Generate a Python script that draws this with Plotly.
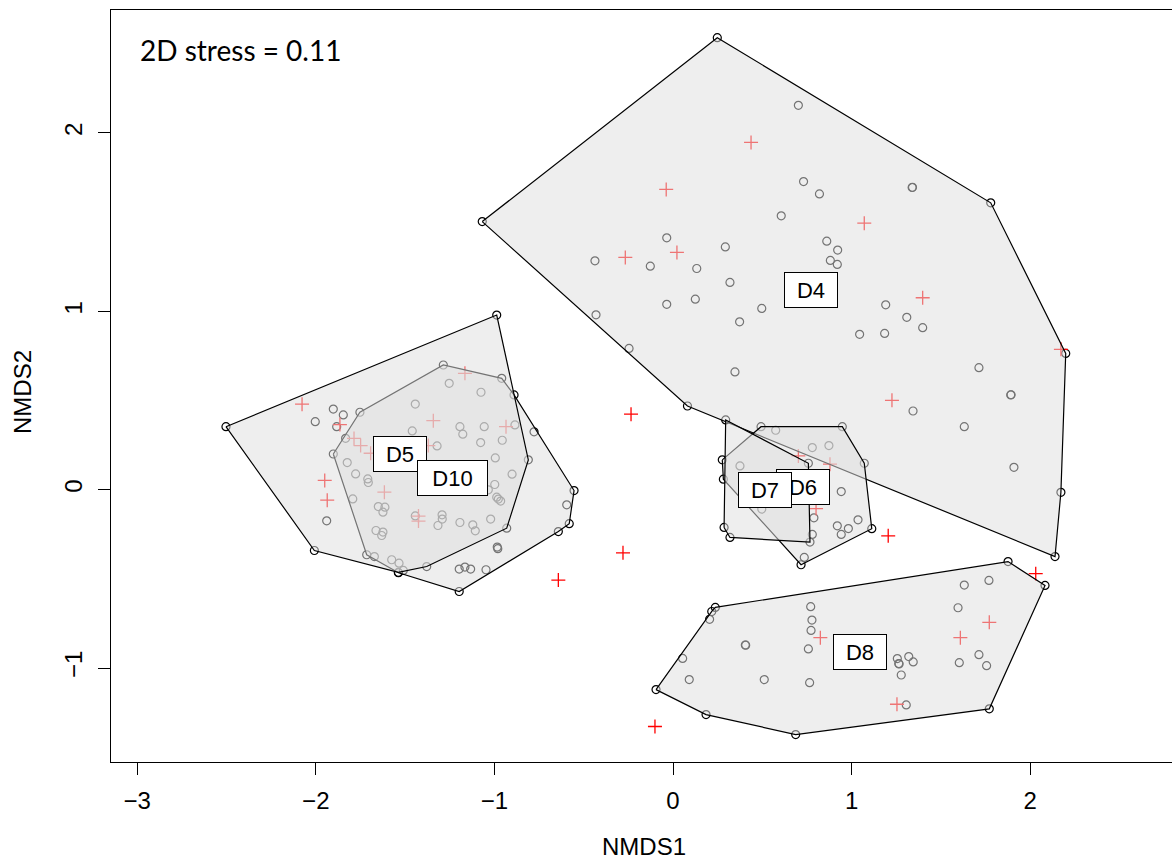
import plotly.graph_objects as go

# NMDS site scores, one pair of lists per group
d4_x = [0.248, -1.068, 1.779, 2.199, 2.172, 2.139, 0.081, -0.246, 0.702, 0.731,
        0.820, 1.339, 1.341, 0.606, -0.035, 0.293, -0.437, -0.127, 0.133, 0.319,
        -0.035, 0.125, 0.497, 0.373, -0.431, 0.347, 0.861, 0.922, 0.881, 0.920,
        1.191, 1.309, 1.398, 1.045, 1.185, 1.713, 1.891, 1.893, 1.344, 1.631, 1.909]
d4_y = [2.534, 1.503, 1.608, 0.764, -0.015, -0.375, 0.469, 0.792, 2.155, 1.727,
        1.658, 1.694, 1.695, 1.535, 1.412, 1.361, 1.283, 1.253, 1.240, 1.162,
        1.039, 1.068, 1.016, 0.941, 0.980, 0.660, 1.393, 1.343, 1.285, 1.263,
        1.036, 0.966, 0.908, 0.871, 0.876, 0.684, 0.531, 0.532, 0.441, 0.353, 0.125]

d5_x = [-2.503, -0.987, -0.810, -0.931, -1.379, -1.538, -2.008, -2.003, -1.902, -1.846,
        -1.883, -1.939, -1.460, -1.443, -1.253, -1.193, -1.057, -1.177, -1.077, -0.956,
        -1.075, -0.885, -1.321, -0.995]
d5_y = [0.353, 0.979, 0.167, -0.216, -0.431, -0.464, -0.341, 0.381, 0.452, 0.419,
        0.353, -0.175, 0.329, 0.480, 0.596, 0.353, 0.353, 0.311, 0.264, 0.277,
        0.546, 0.363, 0.245, 0.178]

d6_x = [0.493, 0.948, 1.071, 1.113, 0.717, 0.276, 0.282, 0.780, 0.873, 0.942,
        0.789, 1.036, 0.920, 0.982, 0.942, 0.735, 0.575, 0.780]
d6_y = [0.353, 0.353, 0.148, -0.219, -0.421, 0.167, 0.059, 0.236, 0.247, -0.011,
        -0.158, -0.169, -0.203, -0.218, -0.251, -0.380, 0.333, -0.251]

d7_x = [0.295, 0.758, 0.767, 0.319, 0.286, 0.375, 0.497]
d7_y = [0.391, 0.148, -0.294, -0.268, -0.212, 0.133, -0.109]

d8_x = [1.876, 2.083, 1.771, 0.687, 0.185, -0.095, 0.237, 0.217, 1.631, 1.769,
        0.771, 1.596, 0.205, 0.778, 0.773, 0.405, 0.407, 0.758, 0.054, 1.256,
        1.320, 1.264, 1.266, 1.345, 1.713, 1.603, 1.756, 1.278, 0.091, 0.511,
        0.765, 1.306]
d8_y = [-0.403, -0.537, -1.229, -1.373, -1.261, -1.121, -0.660, -0.683, -0.535, -0.509,
        -0.656, -0.662, -0.727, -0.731, -0.789, -0.871, -0.872, -0.893, -0.946, -0.947,
        -0.936, -0.975, -0.977, -0.966, -0.925, -0.970, -0.987, -1.039, -1.065, -1.065,
        -1.082, -1.207]

d10_x = [-1.286, -0.959, -0.890, -0.554, -0.581, -0.642, -1.197, -1.537, -1.715, -1.902,
         -1.833, -1.753, -0.778, -0.595, -0.984, -0.981, -1.197, -1.165, -1.133, -1.047,
         -0.901, -0.998, -1.034, -0.987, -0.978, -0.965, -1.824, -1.777, -1.709, -1.706,
         -1.793, -1.650, -1.613, -1.624, -1.293, -1.443, -1.292, -1.316, -1.193, -1.121,
         -1.107, -1.021, -1.663, -1.624, -1.631, -1.672, -1.575, -1.534, -1.510]
d10_y = [0.699, 0.624, 0.531, -0.005, -0.191, -0.235, -0.571, -0.466, -0.365, 0.200,
         0.288, 0.434, 0.324, -0.085, -0.322, -0.331, -0.445, -0.434, -0.445, -0.449,
         0.087, 0.029, -0.001, -0.042, -0.053, -0.064, 0.152, 0.088, 0.060, 0.040,
         -0.052, -0.095, -0.098, -0.126, -0.141, -0.147, -0.165, -0.201, -0.184, -0.197,
         -0.231, -0.165, -0.229, -0.238, -0.257, -0.375, -0.393, -0.412, -0.453]

# second set of scores shown as red crosses
cross_x = [0.437, -0.038, -0.267, 0.022, 1.071, 1.398, 2.172, 1.226, -0.235, -0.280,
           -0.642, -0.101, 0.702, 0.879, 0.801, 1.205, 2.031, 0.825, 1.771, 1.609,
           1.254, -2.077, -1.865, -1.165, -1.342, -0.935, -1.786, -1.749, -1.693, -1.370,
           -1.950, -1.936, -1.616, -1.425, -1.425]
cross_y = [1.947, 1.683, 1.302, 1.330, 1.494, 1.076, 0.787, 0.501, 0.423, -0.354,
           -0.507, -1.328, 0.189, 0.143, -0.106, -0.259, -0.471, -0.830, -0.744, -0.830,
           -1.203, 0.479, 0.365, 0.652, 0.387, 0.353, 0.287, 0.247, 0.204, 0.247,
           0.052, -0.059, -0.014, -0.148, -0.176]

# hull drawing order and label anchors
hull_order = ["D10", "D4", "D5", "D6", "D7", "D8"]
label_names = ["D4", "D5", "D6", "D7", "D8", "D10"]
label_x = [0.771, -1.531, 0.728, 0.513, 1.046, -1.237]
label_y = [1.120, 0.202, 0.015, -0.004, -0.909, 0.063]

stress_text = "2D stress = 0.11"

groups = {
    "D4": (d4_x, d4_y), "D5": (d5_x, d5_y), "D6": (d6_x, d6_y),
    "D7": (d7_x, d7_y), "D8": (d8_x, d8_y), "D10": (d10_x, d10_y),
}


def convex_hull(xs, ys):
    pts = sorted(set(zip(xs, ys)))
    if len(pts) < 3:
        return pts

    def cross(o, a, b):
        return (a[0] - o[0]) * (b[1] - o[1]) - (a[1] - o[1]) * (b[0] - o[0])

    lower, upper = [], []
    for p in pts:
        while len(lower) >= 2 and cross(lower[-2], lower[-1], p) <= 0:
            lower.pop()
        lower.append(p)
    for p in reversed(pts):
        while len(upper) >= 2 and cross(upper[-2], upper[-1], p) <= 0:
            upper.pop()
        upper.append(p)
    return lower[:-1] + upper[:-1]


fig = go.Figure()

all_x = [v for g in label_names for v in groups[g][0]]
all_y = [v for g in label_names for v in groups[g][1]]
fig.add_trace(go.Scatter(
    x=all_x, y=all_y, mode="markers", name="sites",
    marker=dict(symbol="circle-open", size=8, color="black",
                line=dict(width=1.2, color="black")),
    hoverinfo="skip"))

fig.add_trace(go.Scatter(
    x=cross_x, y=cross_y, mode="markers", name="crosses",
    marker=dict(symbol="cross-thin-open", size=10, color="red",
                line=dict(width=1.3, color="red")),
    hoverinfo="skip"))

# semi-transparent hulls are laid over the points
for g in hull_order:
    hull = convex_hull(*groups[g])
    hx = [p[0] for p in hull] + [hull[0][0]]
    hy = [p[1] for p in hull] + [hull[0][1]]
    fig.add_trace(go.Scatter(
        x=hx, y=hy, mode="lines", fill="toself", name=g,
        fillcolor="rgba(222,222,222,0.52)",
        line=dict(color="black", width=1.2),
        hoverinfo="skip"))

annotations = []
for name, lx, ly in zip(label_names, label_x, label_y):
    annotations.append(dict(
        x=lx, y=ly, xref="x", yref="y", text=name, showarrow=False,
        font=dict(family="Liberation Sans, Arial, sans-serif", size=22, color="black"),
        bgcolor="white", bordercolor="black", borderwidth=1, borderpad=0,
        width=52 if len(name) == 2 else 69, height=34,
        xanchor="center", yanchor="middle"))

annotations.append(dict(
    x=0.0255, y=0.9462, xref="paper", yref="paper", text=stress_text,
    showarrow=False, xanchor="left", yanchor="middle",
    font=dict(family="Lato, Open Sans, sans-serif", size=28, color="black")))

annotations.append(dict(
    x=0.5024, y=-0.112, xref="paper", yref="paper", text="NMDS1",
    showarrow=False, xanchor="center", yanchor="middle",
    font=dict(family="Liberation Sans, Arial, sans-serif", size=24, color="black")))
annotations.append(dict(
    x=-0.0839, y=0.492, xref="paper", yref="paper", text="NMDS2",
    showarrow=False, xanchor="center", yanchor="middle", textangle=-90,
    font=dict(family="Liberation Sans, Arial, sans-serif", size=24, color="black")))

axis_font = dict(family="Liberation Sans, Arial, sans-serif", size=24, color="black")

fig.update_layout(
    width=1172, height=859,
    margin=dict(l=111, r=0, t=9.5, b=96.5),
    paper_bgcolor="white", plot_bgcolor="white",
    showlegend=False,
    annotations=annotations,
    xaxis=dict(range=[-3.1467, 2.7940], tickmode="array",
               tickvals=[-3, -2, -1, 0, 1, 2],
               ticktext=["\u22123", "\u22122", "\u22121", "0", "1", "2"],
               showgrid=False, zeroline=False, showline=True, mirror=True,
               linecolor="black", linewidth=1.3, ticks="outside", ticklen=12,
               tickwidth=1.2, tickcolor="black", tickfont=axis_font,
               ticklabelstandoff=5),
    yaxis=dict(range=[-1.5269, 2.6892], tickmode="array",
               tickvals=[-1, 0, 1, 2],
               ticktext=["\u22121", "0", "1", "2"],
               showgrid=False, zeroline=False, showline=True, mirror=False,
               linecolor="black", linewidth=1.3, ticks="outside", ticklen=12,
               tickwidth=1.2, tickcolor="black", tickfont=axis_font,
               tickangle=-90, ticklabelstandoff=6),
)

fig.write_html("out.html")
